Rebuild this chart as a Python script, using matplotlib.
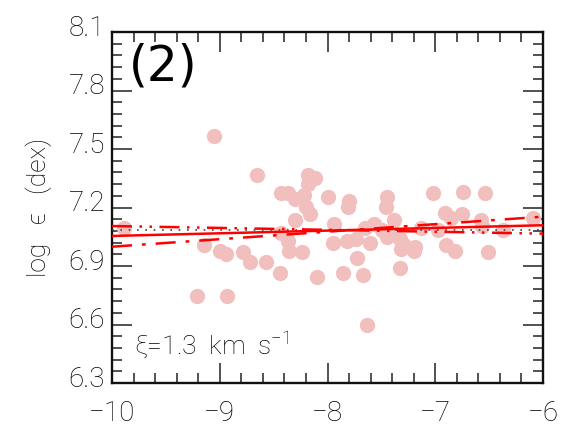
import matplotlib.pyplot as plt
import matplotlib.transforms as mtransforms
from matplotlib.ticker import MultipleLocator

# scatter points (x, log eps)
xs = [-9.89, -9.05, -8.65, -9.15, -9.21, -8.93, -9.00, -8.94, -8.78, -8.72,
      -8.57, -8.44, -8.43, -8.37, -8.30, -8.22, -8.18, -8.12, -8.18, -8.20,
      -8.16, -8.30, -8.43, -8.37, -8.36, -8.24, -8.10, -8.00, -7.94, -7.95,
      -7.82, -7.74, -7.81, -7.80, -7.86, -7.73, -7.67, -7.63, -7.65, -7.57,
      -7.61, -7.45, -7.46, -7.38, -7.49, -7.45, -7.39, -7.33, -7.29, -7.32,
      -7.33, -7.20, -7.19, -7.13, -7.02, -6.97, -6.91, -6.85, -6.90, -6.82,
      -6.74, -6.75, -6.54, -6.58, -6.57, -6.51, -6.37, -6.09]
ys = [7.096, 7.569, 7.369, 7.009, 6.746, 6.746, 6.979, 6.960, 6.970, 6.921,
      6.921, 6.862, 7.272, 7.272, 7.243, 7.262, 7.369, 7.350, 7.320, 7.204,
      7.165, 7.135, 7.067, 7.028, 6.979, 6.970, 6.843, 7.252, 7.116, 7.018,
      7.028, 7.038, 7.204, 7.233, 6.862, 6.940, 6.853, 6.599, 7.096, 7.116,
      7.018, 7.252, 7.204, 7.135, 7.087, 7.048, 7.067, 7.038, 7.009, 6.989,
      6.892, 6.979, 6.999, 7.096, 7.272, 7.087, 7.174, 7.145, 7.009, 6.979,
      7.282, 7.165, 7.272, 7.135, 7.106, 6.970, 7.087, 7.145]

# fit lines: endpoints at x=-10 and x=-6
fit_x = [-10, -6]
fit_mid = [7.054, 7.109]
fit_hi = [7.105, 7.066]
fit_lo = [6.999, 7.153]
mean_y = 7.085

plt.rcParams['font.family'] = 'DejaVu Sans'
plt.rcParams['mathtext.fontset'] = 'custom'
plt.rcParams['mathtext.rm'] = 'Roboto:light'
plt.rcParams['mathtext.it'] = 'Roboto:light:italic'
thin = dict(family='Roboto', weight='light')
fig = plt.figure(figsize=(5.63, 4.34), dpi=100)
ax = fig.add_axes([112 / 563, 1 - 383 / 434, 431 / 563, 351 / 434])

ax.plot(xs, ys, 'o', color='#f2bfbf', markersize=11, markeredgewidth=0, zorder=2)
ax.axhline(mean_y, color='#444444', linestyle=(0, (1, 4)), linewidth=1.2, zorder=3)
ax.plot(fit_x, fit_mid, color='red', linewidth=1.8, zorder=4)
ax.plot(fit_x, fit_hi, color='red', linewidth=1.8, linestyle=(0, (8, 3, 1, 3, 1, 3)), zorder=4)
ax.plot(fit_x, fit_lo, color='red', linewidth=1.8, linestyle=(0, (8, 4, 1.5, 4)), zorder=4)

ax.set_xlim(-10, -6)
ax.set_ylim(6.3, 8.1)
ax.xaxis.set_major_locator(MultipleLocator(1))
ax.xaxis.set_minor_locator(MultipleLocator(0.2))
ax.yaxis.set_major_locator(MultipleLocator(0.3))
ax.yaxis.set_minor_locator(MultipleLocator(0.06))
ax.tick_params(which='both', direction='in', top=True, right=True, width=1.1, color='#222222')
ax.tick_params(which='major', length=14.5, labelsize=20, labelcolor='black')
ax.tick_params(axis='x', which='major', pad=12)
ax.tick_params(axis='y', which='major', pad=5)
ax.tick_params(which='minor', length=7.5)
for s in ax.spines.values():
    s.set_linewidth(1.7)
    s.set_color('#111111')

for lab in ax.get_xticklabels() + ax.get_yticklabels():
    lab.set_fontfamily('Roboto')
    lab.set_fontweight('light')

# y tick labels sit a little above their ticks
shift = mtransforms.ScaledTranslation(0, 5 / 72, fig.dpi_scale_trans)
for lab in ax.get_yticklabels():
    lab.set_transform(lab.get_transform() + shift)

ax.set_ylabel('log   ϵ   (dex)', fontsize=19, color='black', labelpad=12, **thin)
ax.text(0.05, 0.065, r'ξ=1.3  km  s$^{-1}$', transform=ax.transAxes, fontsize=19,
        color='black', va='bottom', ha='left', **thin)
ax.text(0.04, 0.97, '(2)', transform=ax.transAxes, fontsize=35, va='top', ha='left')

fig.savefig('out.png', dpi=100)
